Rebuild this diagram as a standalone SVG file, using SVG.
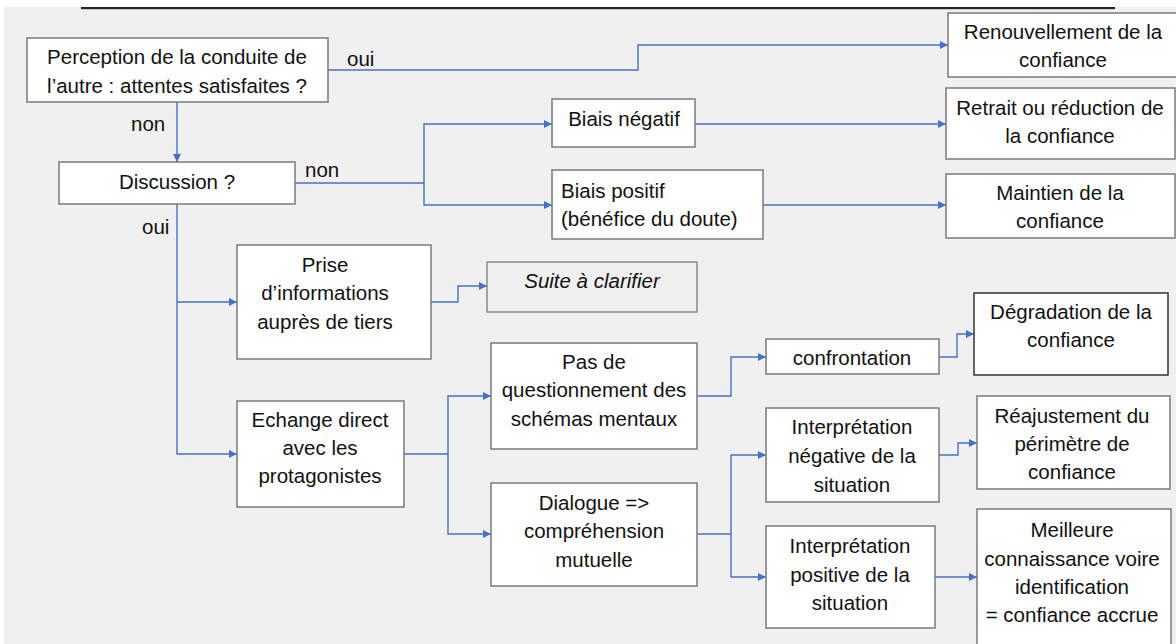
<svg xmlns="http://www.w3.org/2000/svg" width="1176" height="644" viewBox="0 0 1176 644">
<defs>
<marker id="arr" viewBox="0 0 10 10" refX="10" refY="5" markerWidth="8" markerHeight="8" markerUnits="userSpaceOnUse" orient="auto">
<path d="M0,0 L10,5 L0,10 z" fill="#4472C4"/>
</marker>
<style>
.box{fill:#ffffff;stroke:#7a7a7a;stroke-width:1.5}
.boxg{fill:#f0f0f0;stroke:#8a8a8a;stroke-width:1.5}
.t{font-family:"Liberation Sans",Arial,sans-serif;font-size:20.5px;fill:#111;text-anchor:middle}
.tl{font-family:"Liberation Sans",Arial,sans-serif;font-size:20.5px;fill:#111}
.ti{font-family:"Liberation Sans",Arial,sans-serif;font-size:20.5px;fill:#111;text-anchor:middle;font-style:italic}
.c{fill:none;stroke:#4472C4;stroke-width:1.4}
.ca{fill:none;stroke:#4472C4;stroke-width:1.4;marker-end:url(#arr)}
</style>
</defs>
<rect x="0" y="0" width="1176" height="644" fill="#ffffff"/>
<rect x="4" y="7" width="1172" height="637" fill="#f0f0f0"/>
<rect x="81" y="7" width="1034" height="2.2" fill="#262626"/>

<g id="connectors">
<path class="ca" d="M328,70 H638 V45 H948"/>
<path class="ca" d="M177,102 V162"/>
<path class="c" d="M295,183 H424"/>
<path class="ca" d="M424,183 V124 H552"/>
<path class="ca" d="M424,183 V205 H552"/>
<path class="ca" d="M695,124 H946"/>
<path class="ca" d="M763,205 H946"/>
<path class="ca" d="M177,204 V454 H237"/>
<path class="ca" d="M177,302 H237"/>
<path class="ca" d="M431,302 H458 V286 H487"/>
<path class="c" d="M404,454 H448"/>
<path class="ca" d="M448,454 V396 H491"/>
<path class="ca" d="M448,454 V534 H491"/>
<path class="ca" d="M697,396 H731 V357 H766"/>
<path class="c" d="M697,534 H731"/>
<path class="ca" d="M731,534 V455 H766"/>
<path class="ca" d="M731,534 V577 H766"/>
<path class="ca" d="M939,357 H957 V334 H974"/>
<path class="ca" d="M939,455 H958 V443 H977"/>
<path class="ca" d="M935,577 H977"/>
<text class="tl" x="347" y="66">oui</text>
<text class="tl" x="131" y="131">non</text>
<text class="tl" x="305" y="177">non</text>
<text class="tl" x="142" y="234">oui</text>
</g>

<g id="perception">
<rect class="box" x="27" y="38" width="301" height="64"/>
<text class="t" x="177" y="64">Perception de la conduite de</text>
<text class="t" x="177" y="93">l’autre : attentes satisfaites ?</text>
</g>
<g id="discussion">
<rect class="box" x="59" y="162" width="236" height="42"/>
<text class="t" x="177" y="189">Discussion ?</text>
</g>
<g id="biais-negatif">
<rect class="box" x="552" y="99" width="143" height="48"/>
<text class="t" x="624" y="126">Biais négatif</text>
</g>
<g id="biais-positif">
<rect class="box" x="552" y="170" width="211" height="69"/>
<text class="tl" x="561" y="198">Biais positif</text>
<text class="tl" x="561" y="226">(bénéfice du doute)</text>
</g>
<g id="renouvellement">
<rect class="box" x="948" y="13" width="230" height="64"/>
<text class="t" x="1063" y="39">Renouvellement de la</text>
<text class="t" x="1063" y="67">confiance</text>
</g>
<g id="retrait">
<rect class="box" x="946" y="88" width="229" height="71"/>
<text class="t" x="1060" y="115">Retrait ou réduction de</text>
<text class="t" x="1060" y="143">la confiance</text>
</g>
<g id="maintien">
<rect class="box" x="946" y="174" width="229" height="64"/>
<text class="t" x="1060" y="200">Maintien de la</text>
<text class="t" x="1060" y="228">confiance</text>
</g>
<g id="prise">
<rect class="box" x="237" y="245" width="194" height="114"/>
<text class="t" x="325" y="272">Prise</text>
<text class="t" x="325" y="300">d’informations</text>
<text class="t" x="325" y="329">auprès de tiers</text>
</g>
<g id="suite">
<rect class="boxg" x="487" y="262" width="210" height="50"/>
<text class="ti" x="592" y="288">Suite à clarifier</text>
</g>
<g id="echange">
<rect class="box" x="237" y="401" width="167" height="106"/>
<text class="t" x="320" y="427">Echange direct</text>
<text class="t" x="320" y="455">avec les</text>
<text class="t" x="320" y="483">protagonistes</text>
</g>
<g id="pas-de-questionnement">
<rect class="box" x="491" y="343" width="206" height="106"/>
<text class="t" x="594" y="369">Pas de</text>
<text class="t" x="594" y="397">questionnement des</text>
<text class="t" x="594" y="426">schémas mentaux</text>
</g>
<g id="dialogue">
<rect class="box" x="491" y="483" width="206" height="103"/>
<text class="t" x="594" y="510">Dialogue =&gt;</text>
<text class="t" x="594" y="538">compréhension</text>
<text class="t" x="594" y="567">mutuelle</text>
</g>
<g id="confrontation">
<rect class="box" x="766" y="339" width="173" height="35"/>
<text class="t" x="852" y="365">confrontation</text>
</g>
<g id="interpretation-negative">
<rect class="box" x="766" y="408" width="173" height="94"/>
<text class="t" x="852" y="434">Interprétation</text>
<text class="t" x="852" y="463">négative de la</text>
<text class="t" x="852" y="492">situation</text>
</g>
<g id="interpretation-positive">
<rect class="box" x="766" y="526" width="169" height="102"/>
<text class="t" x="850" y="553">Interprétation</text>
<text class="t" x="850" y="582">positive de la</text>
<text class="t" x="850" y="610">situation</text>
</g>
<g id="degradation">
<rect class="box" x="974" y="293" width="194" height="82" style="stroke:#333"/>
<text class="t" x="1071" y="319">Dégradation de la</text>
<text class="t" x="1071" y="347">confiance</text>
</g>
<g id="reajustement">
<rect class="box" x="977" y="396" width="193" height="93"/>
<text class="t" x="1072" y="423">Réajustement du</text>
<text class="t" x="1072" y="451">périmètre de</text>
<text class="t" x="1072" y="479">confiance</text>
</g>
<g id="meilleure">
<rect class="box" x="977" y="509" width="194" height="145"/>
<text class="t" x="1072" y="537">Meilleure</text>
<text class="t" x="1072" y="566">connaissance voire</text>
<text class="t" x="1072" y="594">identification</text>
<text class="t" x="1072" y="622">= confiance accrue</text>
</g>
</svg>
